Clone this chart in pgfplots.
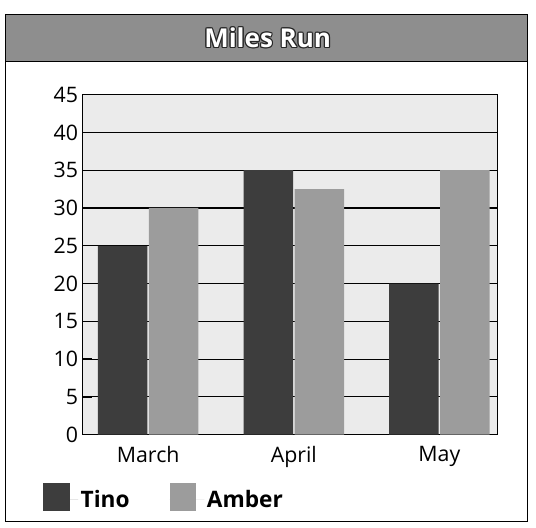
\documentclass[border=0pt]{standalone}
\usepackage{fontspec}
\setmainfont{Open Sans}
\usepackage{pgfplots}
\pgfplotsset{compat=1.18}
\definecolor{tino}{HTML}{3D3D3D}
\definecolor{amber}{HTML}{9C9C9C}
\definecolor{bg}{HTML}{EBEBEB}
\definecolor{titlebar}{HTML}{8E8E8E}
\begin{document}
\begin{tikzpicture}[x=1pt,y=1pt]
\fill[white] (-62,-70) rectangle (340,326);
\fill[white] (-57.75,-65.25) rectangle (333.75,315);
\fill[titlebar] (-57.75,279.75) rectangle (333.75,315);
\draw[line width=1.2pt] (-57.75,-65.25) rectangle (333.75,315);
\draw[line width=1.2pt] (-57.75,279.75) -- (333.75,279.75);
\foreach \dx/\dy in {-0.9/0,0.9/0,0/-0.9,0/0.9,-0.65/-0.65,0.65/0.65,-0.65/0.65,0.65/-0.65}
  \node[font=\fontsize{19.5}{22}\selectfont\bfseries, text=black!85] at (138.75+\dx,297.5+\dy) {Miles Run};
\node[font=\fontsize{19.5}{22}\selectfont\bfseries, text=white] at (138.75,297.5) {Miles Run};
\begin{axis}[
  width=311.25pt, height=255pt, scale only axis,
  xmin=-0.45, xmax=2.4, ymin=0, ymax=45,
  ytick={0,5,...,45}, xtick={0,1,2}, xticklabels={March,April,May},
  ymajorgrids, grid style={black, line width=0.9pt},
  axis background/.style={fill=bg},
  axis line style={black, line width=1.2pt},
  ytick pos=left, ytick style={black, line width=1pt}, major tick length=7pt,
  xtick style={draw=none},
  xticklabel style={yshift=2pt},
  tick label style={font=\fontsize{16}{18}\selectfont},
  /pgf/number format/assume math mode=true,
  ybar, bar width=0.34,
  legend style={at={(-0.105,-0.185)}, anchor=west, draw=none, fill=none,
    legend columns=2, font=\fontsize{17}{20}\selectfont\bfseries,
    /tikz/every even column/.append style={column sep=28pt}},
  legend image code/.code={\fill[#1] (0pt,-9pt) rectangle (20pt,12pt);
    \path (0pt,0pt) -- (26pt,0pt);},
]
\addplot[fill=tino, draw=none, bar shift=-0.175] coordinates {(0,25) (1,35) (2,20)};
\addplot[fill=amber, draw=none, bar shift=0.175] coordinates {(0,30) (1,32.5) (2,35)};
\legend{Tino, Amber}
\end{axis}
\end{tikzpicture}
\end{document}
